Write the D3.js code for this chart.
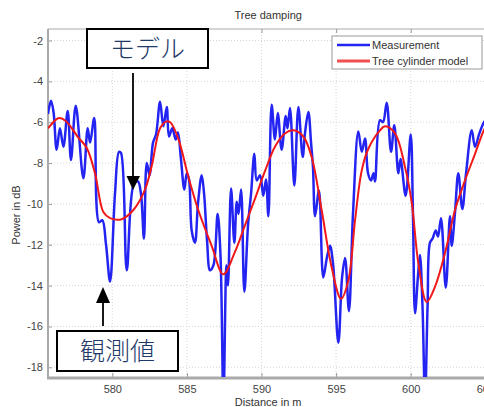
<!DOCTYPE html>
<html>
<head>
<meta charset="utf-8">
<script src="https://cdn.jsdelivr.net/npm/d3@7"></script>
<style>
  body { margin: 0; background: #fff; }
  svg { display: block; font-family: Arial, "Liberation Sans", sans-serif; }
</style>
</head>
<body>
<div id="chart"></div>
<script>
const measDist = [575.69, 575.89, 576.06, 576.27, 576.49, 576.72, 577.01, 577.23, 577.55, 578.06,
  578.35, 578.51, 578.79, 579.11, 579.33, 579.58, 579.85, 580.18, 580.45, 580.58,
  580.97, 581.45, 581.72, 581.92, 582.12, 582.31, 582.49, 582.73, 582.93, 583.20,
  583.42, 583.65, 583.80, 584.02, 584.25, 584.40, 584.60, 584.83, 584.99, 585.14,
  585.32, 585.54, 585.74, 585.99, 586.15, 586.35, 586.55, 586.78, 587.06, 587.25,
  587.45, 587.65, 587.75, 587.96, 588.18, 588.34, 588.46, 588.63, 588.85, 589.10,
  589.30, 589.52, 589.68, 589.90, 590.12, 590.30, 590.46, 590.68, 590.90, 591.09,
  591.35, 591.62, 591.74, 591.91, 592.20, 592.47, 592.76, 592.92, 593.14, 593.32,
  593.45, 593.59, 593.85, 594.14, 594.39, 594.59, 594.79, 595.15, 595.40, 595.60,
  595.86, 596.13, 596.49, 596.72, 596.94, 597.14, 597.34, 597.51, 597.61, 597.94,
  598.14, 598.39, 598.68, 598.90, 599.17, 599.32, 599.66, 600.00, 600.15, 600.29,
  600.49, 600.62, 600.79, 600.96, 601.13, 601.29, 601.46, 601.68, 601.83, 602.03,
  602.35, 602.63, 602.75, 602.97, 603.19, 603.46, 603.71, 604.09, 604.31, 604.58,
  604.87, 605.11];
const measPower = [-5.6, -4.95, -5.5, -7.35, -6.3, -7.2, -5.45, -7.85, -5.2, -8.75,
  -6.3, -7.0, -5.8, -10.9, -10.8, -12.0, -13.8, -9.5, -7.45, -7.5,
  -13.25, -9.0, -8.9, -9.5, -11.7, -8.0, -8.6, -7.0, -6.6, -5.0,
  -6.2, -5.25, -6.7, -6.3, -6.85, -6.5, -7.8, -9.3, -8.5, -8.8,
  -11.3, -11.9, -10.0, -8.6, -9.5, -11.8, -13.25, -13.0, -10.5, -12.5,
  -19.6, -13.0, -14.0, -9.25, -11.9, -9.9, -10.5, -9.3, -14.3, -11.0,
  -9.5, -7.55, -8.85, -8.6, -9.6, -8.8, -10.6, -5.15, -6.85, -5.55,
  -7.35, -5.7, -6.3, -5.3, -9.1, -5.25, -7.7, -6.5, -5.5, -7.0,
  -8.2, -10.6, -9.35, -13.6, -12.6, -12.05, -12.9, -16.8, -13.6, -12.65,
  -15.25, -10.5, -6.45, -7.45, -6.8, -8.5, -8.85, -8.5, -8.9, -5.9,
  -6.0, -5.05, -7.45, -6.15, -8.5, -7.8, -9.6, -6.6, -10.5, -15.35,
  -13.5, -12.5, -15.0, -19.6, -15.0, -11.9, -11.7, -11.3, -11.6, -10.7,
  -14.1, -10.6, -12.05, -10.4, -8.5, -10.25, -8.5, -6.4, -7.2, -6.6,
  -6.05, -5.8];

// tree cylinder model (red)
const modelDist = [575.69, 576.27, 576.45, 576.9, 577.72, 578.28, 578.84, 579.40, 579.85, 580.63,
  581.41, 582.19, 582.64, 583.20, 583.60, 583.88, 584.42, 585.09, 585.76, 586.66,
  587.44, 588.22, 588.89, 589.56, 590.23, 590.90, 591.57, 592.13, 592.80, 593.36,
  594.03, 594.70, 595.33, 595.82, 596.27, 596.72, 597.16, 597.94, 598.28, 598.95,
  599.62, 600.07, 600.51, 601.07, 601.63, 602.30, 602.97, 603.64, 604.31, 604.87, 605.2];
const modelPower = [-6.3, -5.85, -5.8, -5.95, -6.75, -7.25, -8.5, -10.4, -10.7, -10.75,
  -10.3, -9.3, -8.15, -6.3, -5.97, -6.0, -6.8, -8.65, -10.3, -12.05,
  -13.45, -12.35, -11.05, -9.75, -8.4, -7.2, -6.55, -6.4, -6.7, -7.7,
  -10.3, -13.1, -14.65, -13.75, -10.8, -8.35, -7.3, -6.4, -6.2, -6.55,
  -8.2, -9.95, -12.9, -14.8, -14.05, -12.4, -10.3, -8.85, -7.55, -6.45, -6.0];

const xTicks = [580, 585, 590, 595, 600, 605];
const yTicks = [-18, -16, -14, -12, -10, -8, -6, -4, -2];

const W = 484, H = 407;
const L = 48, T = 29, R = 488.3, B = 377;

const svg = d3.select("#chart").append("svg")
  .attr("width", W)
  .attr("height", H);

const x = d3.scaleLinear().domain([575.69, 605.2]).range([L, R]);
const y = d3.scaleLinear().domain([-18.475, -1.437]).range([B, T]);

svg.append("clipPath").attr("id", "plotclip")
  .append("rect").attr("x", L).attr("y", T).attr("width", R - L).attr("height", B - T);

// grid
svg.append("g").selectAll("line").data(xTicks).enter().append("line")
  .attr("x1", d => x(d)).attr("x2", d => x(d))
  .attr("y1", T).attr("y2", B)
  .style("stroke", "#d6d6d6").style("stroke-dasharray", "1,2");
svg.append("g").selectAll("line").data(yTicks).enter().append("line")
  .attr("x1", L).attr("x2", R)
  .attr("y1", d => y(d)).attr("y2", d => y(d))
  .style("stroke", "#d6d6d6").style("stroke-dasharray", "1,2");

// axes, ticks inward
const xAxis = svg.append("g").attr("transform", "translate(0," + B + ")")
  .call(d3.axisBottom(x).tickValues(xTicks).tickSize(-4).tickPadding(8).tickFormat(d => String(d)));
const yAxis = svg.append("g").attr("transform", "translate(" + L + ",0)")
  .call(d3.axisLeft(y).tickValues(yTicks).tickSize(-4).tickPadding(5).tickFormat(d => String(d)));
svg.append("g").attr("transform", "translate(0," + T + ")")
  .call(d3.axisTop(x).tickValues(xTicks).tickSize(-4).tickFormat(""))
  .call(g => g.select(".domain").remove());

[xAxis, yAxis].forEach(g => {
  g.selectAll("text").style("font-size", "11px").style("fill", "#444");
  g.select(".domain").remove();
});
svg.selectAll(".tick line").style("stroke", "#999");

// frame
svg.append("line").attr("x1", L).attr("x2", R).attr("y1", T).attr("y2", T).style("stroke", "#aaa");
svg.append("line").attr("x1", L).attr("x2", L).attr("y1", T).attr("y2", B).style("stroke", "#aaa").style("stroke-width", 2);
svg.append("line").attr("x1", L - 1).attr("x2", R).attr("y1", B + 1).attr("y2", B + 1).style("stroke", "#aaa").style("stroke-width", 3);

// lines
const meas = measDist.map((d, i) => [d, measPower[i]]);
const model = modelDist.map((d, i) => [d, modelPower[i]]);

const line = d3.line().x(d => x(d[0])).y(d => y(d[1])).curve(d3.curveCatmullRom.alpha(0.5));

svg.append("path").datum(meas)
  .attr("clip-path", "url(#plotclip)")
  .attr("d", line)
  .style("fill", "none").style("stroke", "#2424f2").style("stroke-width", 2.5)
  .style("stroke-linejoin", "round");

svg.append("path").datum(model)
  .attr("clip-path", "url(#plotclip)")
  .attr("d", line)
  .style("fill", "none").style("stroke", "#f01818").style("stroke-width", 2);

// title and labels
svg.append("text").attr("x", (L + R) / 2).attr("y", 19).attr("text-anchor", "middle")
  .style("font-size", "11px").style("fill", "#333").text("Tree damping");
svg.append("text").attr("x", (L + R) / 2).attr("y", 406).attr("text-anchor", "middle")
  .style("font-size", "11px").style("fill", "#333").text("Distance in m");
svg.append("text").attr("transform", "translate(20,215) rotate(-90)").attr("text-anchor", "middle")
  .style("font-size", "11px").style("fill", "#333").text("Power in dB");

// legend
const lg = svg.append("g");
lg.append("rect").attr("x", 332).attr("y", 36).attr("width", 150).attr("height", 33)
  .style("fill", "#fff").style("stroke", "#999");
lg.append("line").attr("x1", 337).attr("x2", 370).attr("y1", 45).attr("y2", 45)
  .style("stroke", "#2424f2").style("stroke-width", 2.5);
lg.append("line").attr("x1", 337).attr("x2", 370).attr("y1", 61).attr("y2", 61)
  .style("stroke", "#f05050").style("stroke-width", 3);
lg.append("text").attr("x", 372).attr("y", 49).style("font-size", "11px").style("fill", "#333").text("Measurement");
lg.append("text").attr("x", 372).attr("y", 65).style("font-size", "11px").style("fill", "#333").text("Tree cylinder model");

// annotations
const note = (bx, by, bw, bh, label) => {
  svg.append("rect").attr("x", bx).attr("y", by).attr("width", bw).attr("height", bh)
    .style("fill", "#fff").style("stroke", "#000").style("stroke-width", 2);
  svg.append("text").attr("x", bx + bw / 2).attr("y", by + bh / 2 + 9).attr("text-anchor", "middle")
    .style("font-family", "'Noto Sans CJK JP', sans-serif").style("font-size", "25px")
    .style("font-weight", 300).style("fill", "#1f3a68").text(label);
};
note(87, 29, 121, 39, "モデル");
note(57, 331, 121, 40, "観測値");

// arrows
svg.append("line").attr("x1", 133).attr("x2", 133).attr("y1", 73).attr("y2", 177)
  .style("stroke", "#000").style("stroke-width", 1.8);
svg.append("path").attr("d", "M126.5,176 L140,176 L133,190 Z").style("fill", "#000");
svg.append("line").attr("x1", 103).attr("x2", 103).attr("y1", 326).attr("y2", 302)
  .style("stroke", "#000").style("stroke-width", 1.8);
svg.append("path").attr("d", "M96,303 L110,303 L103,287 Z").style("fill", "#000");
</script>
</body>
</html>
